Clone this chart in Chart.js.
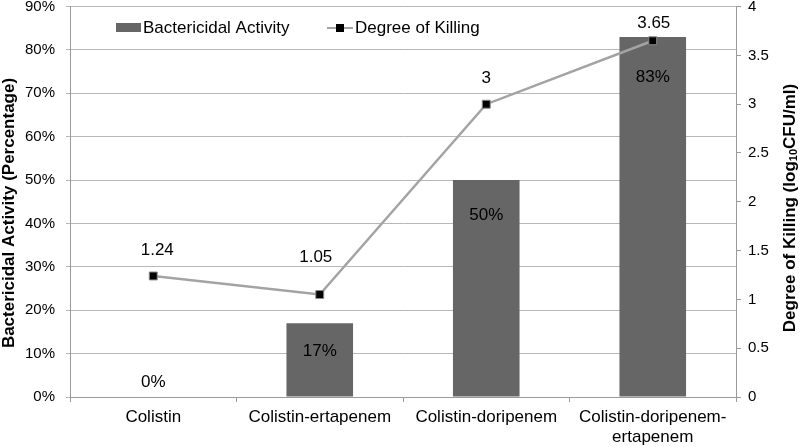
<!DOCTYPE html>
<html>
<head>
<meta charset="utf-8">
<script src="https://cdn.jsdelivr.net/npm/chart.js@4.4.0/dist/chart.umd.min.js"></script>
<style>
  body { margin: 0; background: #fff; }
  canvas { display: block; }
</style>
</head>
<body>
<canvas id="chart" width="800" height="447"></canvas>
<script>
const categories = ['Colistin', 'Colistin-ertapenem', 'Colistin-doripenem', ['Colistin-doripenem-', 'ertapenem']];
const bactericidalActivity = [0, 17, 50, 83];   // percent
const degreeOfKilling = [1.24, 1.05, 3, 3.65];  // log10 CFU/ml
const percentAxis = { min: 0, max: 90, step: 10 };
const killingAxis = { min: 0, max: 4, step: 0.5 };

const FONT = '"Liberation Sans", Arial, sans-serif';
const BAR_COLOR = '#666666';
const LINE_COLOR = '#a3a3a3';
const AXIS_COLOR = '#9a9a9a';
const GRID_COLOR = '#b8b8b8';

// nudges for the value labels, the way they sit in the original
const barLabelShift = [-15, 28, 35, 40];
const lineLabelShift = [[4, -26], [-4, -37], [0, -26], [1, -17]];

const valueLabels = {
    id: 'valueLabels',
    afterDatasetsDraw(chart) {
        const ctx = chart.ctx;
        ctx.save();
        ctx.font = '17px ' + FONT;
        ctx.fillStyle = '#000';
        ctx.textAlign = 'center';
        ctx.textBaseline = 'middle';
        chart.getDatasetMeta(0).data.forEach((bar, i) => {
            ctx.fillText(bactericidalActivity[i] + '%', bar.x, bar.y + barLabelShift[i]);
        });
        chart.getDatasetMeta(1).data.forEach((pt, i) => {
            ctx.fillText(String(degreeOfKilling[i]), pt.x + lineLabelShift[i][0], pt.y + lineLabelShift[i][1]);
        });
        ctx.restore();
    }
};

// axis titles (right one has a subscript) and the legend inside the plot
const decorations = {
    id: 'decorations',
    afterDraw(chart) {
        const ctx = chart.ctx;
        ctx.save();
        ctx.fillStyle = '#000';
        ctx.textBaseline = 'middle';

        // left title
        ctx.save();
        ctx.translate(9, 213);
        ctx.rotate(-Math.PI / 2);
        ctx.textAlign = 'center';
        ctx.font = 'bold 17px ' + FONT;
        ctx.fillText('Bactericidal Activity (Percentage)', 0, 0);
        ctx.restore();

        // right title
        ctx.save();
        ctx.translate(790, 208);
        ctx.rotate(-Math.PI / 2);
        ctx.textAlign = 'left';
        const big = 'bold 17px ' + FONT, small = 'bold 11px ' + FONT;
        const parts = [['Degree of Killing (log', big, 0], ['10', small, 4], ['CFU/ml)', big, 0]];
        let total = 0;
        parts.forEach(p => { ctx.font = p[1]; total += ctx.measureText(p[0]).width; });
        let x = -total / 2;
        parts.forEach(p => {
            ctx.font = p[1];
            ctx.fillText(p[0], x, p[2]);
            x += ctx.measureText(p[0]).width;
        });
        ctx.restore();

        // legend
        ctx.font = '17px ' + FONT;
        ctx.textAlign = 'left';
        ctx.fillStyle = BAR_COLOR;
        ctx.fillRect(116, 23, 25, 9);
        ctx.fillStyle = '#000';
        ctx.fillText('Bactericidal Activity', 143, 28);

        ctx.strokeStyle = LINE_COLOR;
        ctx.lineWidth = 2;
        ctx.beginPath();
        ctx.moveTo(327, 28);
        ctx.lineTo(353, 28);
        ctx.stroke();
        ctx.fillStyle = '#000';
        ctx.fillRect(336, 24, 8, 8);
        ctx.fillText('Degree of Killing', 355, 28);

        ctx.restore();
    }
};

const tickFont = { family: FONT, size: 15 };

new Chart(document.getElementById('chart'), {
    data: {
        labels: categories,
        datasets: [
            {
                type: 'bar',
                label: 'Bactericidal Activity',
                data: bactericidalActivity,
                backgroundColor: BAR_COLOR,
                barPercentage: 0.4,
                categoryPercentage: 1,
                yAxisID: 'y',
                order: 1
            },
            {
                type: 'line',
                label: 'Degree of Killing',
                data: degreeOfKilling,
                borderColor: LINE_COLOR,
                borderWidth: 2.5,
                pointStyle: 'rect',
                pointRadius: 5.6,
                pointBackgroundColor: '#000',
                pointBorderColor: '#8a8a8a',
                pointBorderWidth: 1,
                tension: 0,
                yAxisID: 'y1',
                order: 0
            }
        ]
    },
    options: {
        responsive: false,
        animation: false,
        devicePixelRatio: 1,
        layout: { padding: { top: 6, left: 0, right: 0, bottom: 0 } },
        plugins: {
            legend: { display: false },
            tooltip: { enabled: false }
        },
        scales: {
            x: {
                offset: true,
                grid: { offset: true, drawOnChartArea: false, tickLength: 5, color: AXIS_COLOR },
                border: { color: AXIS_COLOR },
                ticks: { font: { family: FONT, size: 17 }, color: '#000', padding: 5, maxRotation: 0, autoSkip: false },
                afterFit(s) { s.height = 50; s.paddingLeft = 0; s.paddingRight = 0; }
            },
            y: {
                position: 'left',
                min: percentAxis.min,
                max: percentAxis.max,
                ticks: { stepSize: percentAxis.step, callback: v => v + '%', font: tickFont, color: '#000', padding: 11 },
                grid: { color: GRID_COLOR, tickLength: 4 },
                border: { color: AXIS_COLOR },
                afterFit(s) { s.width = 70; s.paddingTop = 0; s.paddingBottom = 0; }
            },
            y1: {
                position: 'right',
                min: killingAxis.min,
                max: killingAxis.max,
                ticks: { stepSize: killingAxis.step, callback: v => String(v), font: tickFont, color: '#000', padding: 7 },
                grid: { drawOnChartArea: false, tickLength: 5, color: AXIS_COLOR },
                border: { color: AXIS_COLOR },
                afterFit(s) { s.width = 64; s.paddingTop = 0; s.paddingBottom = 0; }
            }
        }
    },
    plugins: [valueLabels, decorations]
});
</script>
</body>
</html>
